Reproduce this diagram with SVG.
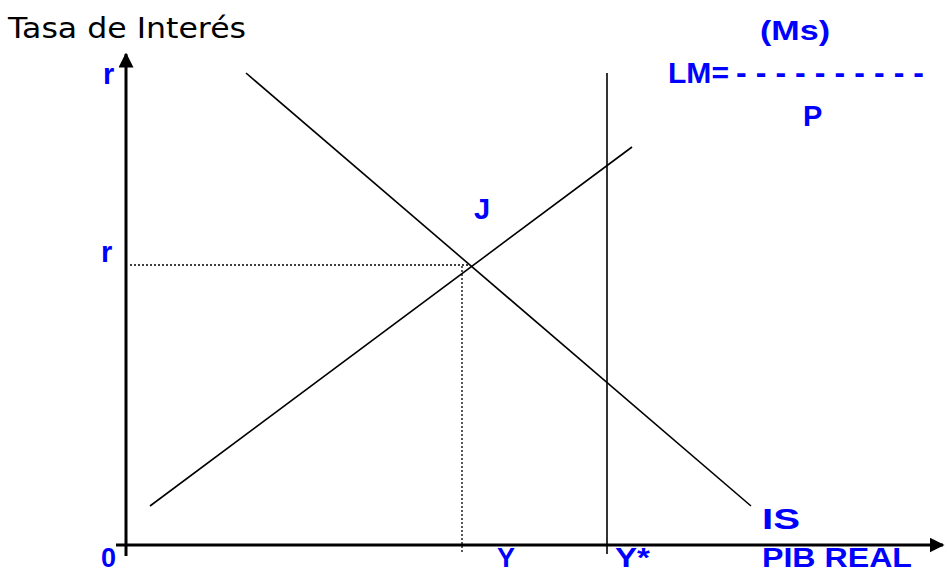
<svg xmlns="http://www.w3.org/2000/svg" width="947" height="573" viewBox="0 0 947 573">
<style>
.lbl{font-family:"Comic Sans MS","Liberation Sans",sans-serif;font-weight:bold;fill:#0000ff;font-size:29px}
.bot{font-size:27px}
.ttl{font-family:"Comic Sans MS","DejaVu Sans",sans-serif;fill:#000;font-size:28px}
.ln{stroke:#000;stroke-width:1.6;fill:none}
.ax{stroke:#000;stroke-width:3;fill:none}
.dot{stroke:#000;stroke-width:1.3;stroke-dasharray:2 2;fill:none}
</style>
<defs>
<marker id="ah" viewBox="0 0 10 10" refX="9" refY="5" markerWidth="5" markerHeight="5" orient="auto">
<path d="M0,0 L10,5 L0,10 z" fill="#000"/>
</marker>
</defs>
<rect width="947" height="573" fill="#fff"/>
<g id="axes">
<line class="ax" x1="126" y1="556" x2="126" y2="54" marker-end="url(#ah)"/>
<line class="ax" x1="116" y1="545" x2="943" y2="545" marker-end="url(#ah)"/>
</g>
<g id="connectors">
<line id="IS" class="ln" x1="246" y1="73" x2="751" y2="506"/>
<line id="LMcurve" class="ln" x1="150" y1="506" x2="632" y2="147"/>
<line id="Ystar" class="ln" x1="607" y1="73" x2="607" y2="554"/>
<line class="dot" x1="130" y1="265" x2="470" y2="265"/>
<line class="dot" x1="462" y1="266" x2="462" y2="554"/>
</g>
<g id="labels">
<text class="ttl" x="8" y="38" textLength="238" lengthAdjust="spacingAndGlyphs">Tasa de Interés</text>
<text class="lbl" x="103" y="84">r</text>
<text class="lbl" x="101" y="262">r</text>
<text class="lbl" x="474" y="219">J</text>
<text class="lbl" x="760" y="40" style="font-size:27px" textLength="70" lengthAdjust="spacingAndGlyphs">(Ms)</text>
<g id="lm-formula">
<text class="lbl" x="668" y="83" textLength="61" lengthAdjust="spacingAndGlyphs">LM=</text>
<text class="lbl" x="736" y="83" style="font-size:32px" textLength="188" lengthAdjust="spacing">----------</text>
</g>
<text class="lbl" x="803" y="126">P</text>
<text class="lbl" x="762" y="529" textLength="38" lengthAdjust="spacingAndGlyphs">IS</text>
<text class="lbl bot" x="101" y="567">0</text>
<text class="lbl bot" x="497" y="567">Y</text>
<text class="lbl bot" x="615" y="567" textLength="35" lengthAdjust="spacingAndGlyphs">Y*</text>
<text class="lbl bot" x="762" y="567" textLength="150" lengthAdjust="spacingAndGlyphs">PIB REAL</text>
</g>
</svg>
